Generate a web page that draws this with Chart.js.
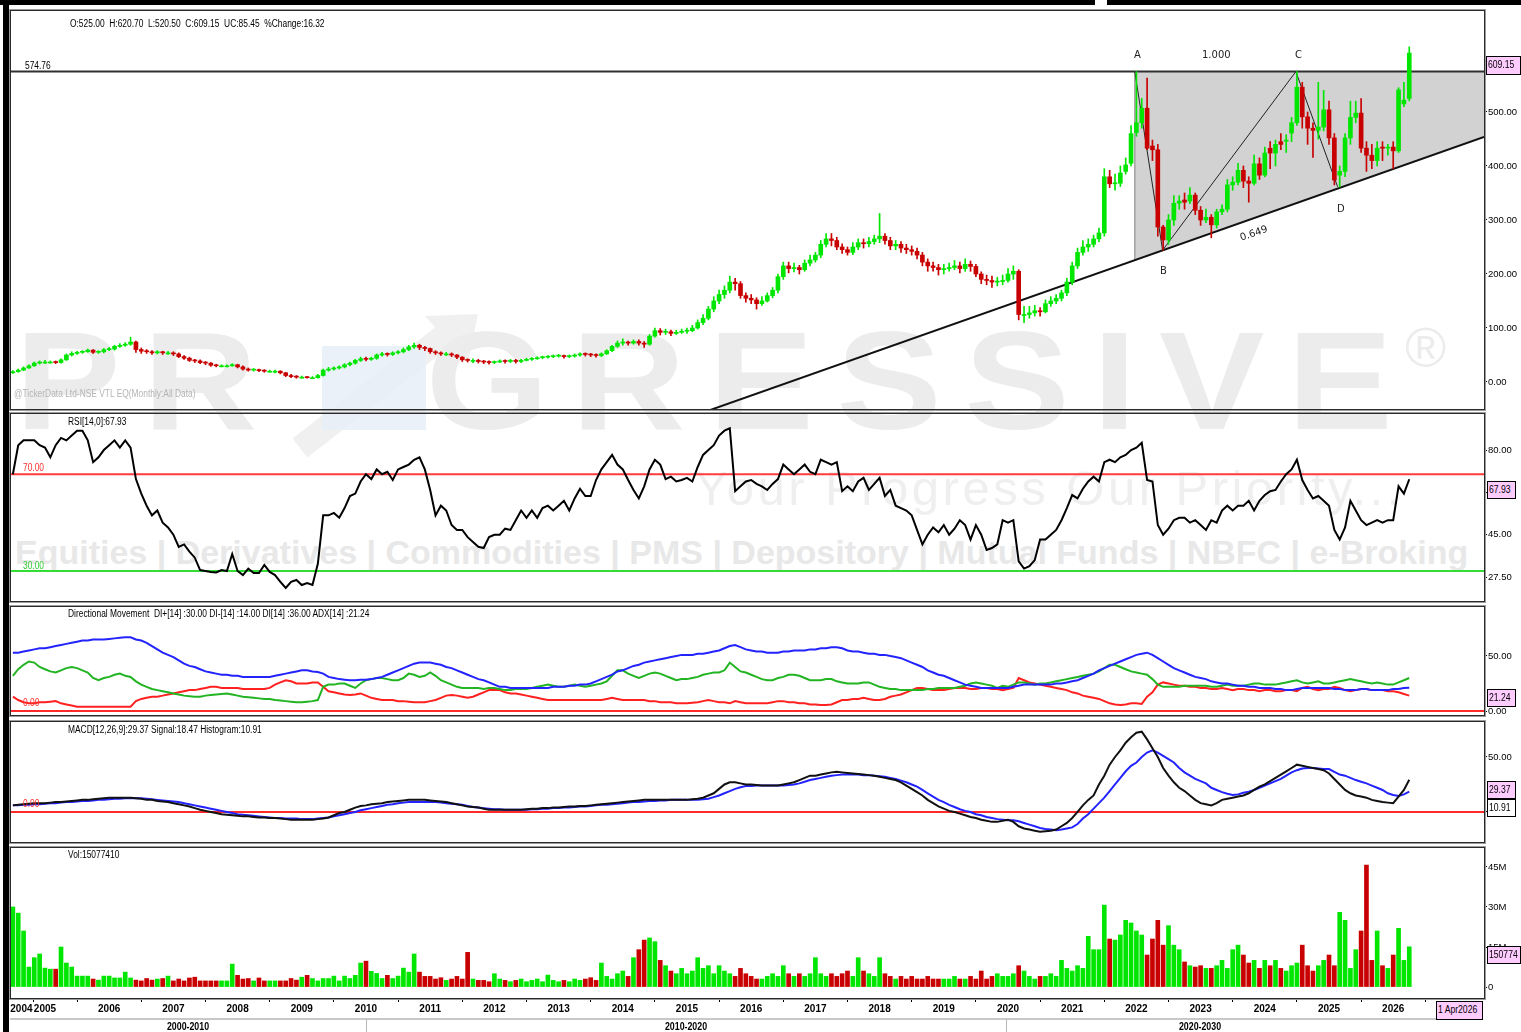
<!DOCTYPE html>
<html><head><meta charset="utf-8">
<script src="https://cdn.jsdelivr.net/npm/chart.js@4.4.1/dist/chart.umd.min.js"></script>
<style>
html,body{margin:0;padding:0;background:#fff;}
#wrap{position:relative;width:1521px;height:1032px;overflow:hidden;background:#fff;font-family:"Liberation Sans Narrow","Liberation Sans",Arial,sans-serif;}
canvas{position:absolute;left:0;z-index:2;}
.t{position:absolute;white-space:nowrap;font-size:10px;line-height:12px;color:#000;z-index:3;transform:scaleX(0.84);transform-origin:left center;}
.wm{position:absolute;white-space:nowrap;z-index:1;color:#ececec;font-family:"Liberation Sans",Arial,sans-serif;}
.box{position:absolute;z-index:4;background:#ffccff;border:1px solid #000;font-size:10px;line-height:16px;padding-left:1px;box-sizing:border-box;white-space:nowrap;overflow:hidden;}
.box span{display:inline-block;transform:scaleX(0.86);transform-origin:left center;}
.bar{position:absolute;background:#000;z-index:5;}
.lbl{position:absolute;white-space:nowrap;font-family:"DejaVu Sans","Liberation Sans",sans-serif;font-size:10px;color:#222;z-index:3;}
.yr{position:absolute;white-space:nowrap;font-weight:bold;font-size:11px;z-index:3;transform:scaleX(0.8);transform-origin:center center;width:80px;text-align:center;}
</style></head>
<body><div id="wrap">
<div class="bar" style="left:0;top:0;width:1095px;height:5px"></div>
<div class="bar" style="left:1107px;top:0;width:414px;height:5px"></div>
<div class="bar" style="left:3px;top:0;width:6px;height:1032px"></div>

<svg style="position:absolute;left:0;top:0;z-index:1" width="1521" height="620">
  <path d="M300 448 L445 335" stroke="#f0f0f0" stroke-width="24" fill="none"/>
  <path d="M425 316 L478 314 L468 364 Z" fill="#f0f0f0"/>
  <rect x="322" y="346" width="104" height="84" fill="#e6eef7" opacity="0.85"/>
</svg>
<div class="wm" style="left:15px;top:306px;font-size:140px;font-weight:bold;letter-spacing:20px;line-height:150px;transform:scaleX(1.13);transform-origin:left top">PR<span style="color:rgba(0,0,0,0)">O</span>GRESSIVE</div>
<div class="wm" style="left:1405px;top:318px;font-size:56px;line-height:60px">&reg;</div>
<div class="wm" style="left:695px;top:462px;font-size:49px;letter-spacing:3.5px;line-height:52px;color:#efefef">Your Progress Our Priority...</div>
<div class="wm" style="left:15px;top:532px;font-size:34px;font-weight:bold;line-height:40px;color:#e8e8e8">Equities | Derivatives | Commodities | PMS | Depository | Mutual Funds | NBFC | e-Broking</div>

<canvas id="cPrice" width="1521" height="404" style="top:8px"></canvas>
<canvas id="cRsi" width="1521" height="193" style="top:411px"></canvas>
<canvas id="cDmi" width="1521" height="114" style="top:604px"></canvas>
<canvas id="cMacd" width="1521" height="126" style="top:719px"></canvas>
<canvas id="cVol" width="1521" height="187" style="top:845px"></canvas>

<div class="t" style="left:70px;top:18px">O:525.00&nbsp; H:620.70&nbsp; L:520.50&nbsp; C:609.15&nbsp; UC:85.45&nbsp; %Change:16.32</div>
<div class="t" style="left:25px;top:60px">574.76</div>
<div class="t" style="left:14px;top:388px;color:#b4b4b4">@TickerData Ltd-NSE VTL EQ(Monthly:All Data)</div>
<div class="t" style="left:68px;top:416px">RSI[14,0]:67.93</div>
<div class="t" style="left:23px;top:462px;color:#ff3030">70.00</div>
<div class="t" style="left:23px;top:560px;color:#33cc33">30.00</div>
<div class="t" style="left:68px;top:608px">Directional Movement&nbsp; DI+[14] :30.00 DI-[14] :14.00 DI[14] :36.00 ADX[14] :21.24</div>
<div class="t" style="left:23px;top:697px;color:#ff3030">0.00</div>
<div class="t" style="left:68px;top:724px">MACD[12,26,9]:29.37 Signal:18.47 Histogram:10.91</div>
<div class="t" style="left:23px;top:798px;color:#ff3030">0.00</div>
<div class="t" style="left:68px;top:849px">Vol:15077410</div>

<div class="lbl" style="left:1134px;top:49px">A</div>
<div class="lbl" style="left:1202px;top:49px">1.000</div>
<div class="lbl" style="left:1295px;top:49px">C</div>
<div class="lbl" style="left:1160px;top:265px">B</div>
<div class="lbl" style="left:1337px;top:203px">D</div>
<div class="lbl" style="left:1240px;top:232px;transform:rotate(-19deg);transform-origin:left center">0.649</div>

<div class="box" style="left:1486px;top:56px;width:35px;height:19px"><span>609.15</span></div>
<div class="box" style="left:1487px;top:481px;width:29px;height:18px"><span>67.93</span></div>
<div class="box" style="left:1487px;top:689px;width:29px;height:18px"><span>21.24</span></div>
<div class="box" style="left:1487px;top:781px;width:29px;height:18px"><span>29.37</span></div>
<div class="box" style="left:1487px;top:799px;width:29px;height:18px;background:#fff"><span>10.91</span></div>
<div class="box" style="left:1487px;top:946px;width:34px;height:18px"><span>150774</span></div>
<div class="box" style="left:1436px;top:1001px;width:47px;height:19px"><span>1 Apr2026</span></div>

<div style="position:absolute;left:10px;top:1018px;width:1426px;height:2px;background:#c8c8c8;z-index:3"></div>
<div style="position:absolute;left:366px;top:1019px;width:1px;height:13px;background:#b8b8b8;z-index:3"></div>
<div style="position:absolute;left:1006px;top:1019px;width:1px;height:13px;background:#b8b8b8;z-index:3"></div>
<div class="yr" style="left:148px;top:1020px">2000-2010</div>
<div class="yr" style="left:646px;top:1020px">2010-2020</div>
<div class="yr" style="left:1160px;top:1020px">2020-2030</div>
</div>
<script>
// ---------- DATA (monthly, Jul 2004 .. Apr 2026) ----------
const startMonthIndex = 6; // months after Jan 2004
const openP = [
17,19,22,26,30,35,
37,37,37,36,41,50,53,55,56,59,55,56,
60,61,66,68,70,74,60,57,56,54,56,54,
54,52,47,44,40,39,36,35,31,30,30,30,
32,28,24,22,23,21,20,20,20,17,12,10,
9,9,8,8,12,22,24,26,28,32,35,40,
43,42,44,50,52,51,54,56,60,65,68,64,
62,56,54,52,52,50,46,41,40,40,38,37,
36,37,39,38,40,38,40,42,43,45,46,47,
48,49,47,48,50,52,51,50,49,52,58,66,
72,74,72,75,72,70,85,95,92,93,90,92,
94,95,100,110,118,135,150,162,170,185,182,160,
155,152,145,150,160,170,195,215,210,212,208,220,
226,235,255,265,262,250,245,240,250,258,256,260,
265,270,262,252,255,248,245,242,235,222,215,212,
208,210,212,215,210,218,214,200,190,188,185,186,
188,200,205,125,125,128,132,130,145,150,155,165,
185,215,240,250,255,265,276,380,367,368,390,405,
462,480,507,437,430,287,263,300,331,337,335,346,
318,300,305,291,315,320,365,370,392,372,368,404,
383,433,424,445,446,461,480,546,491,470,466,472,
504,452,383,390,452,490,498,433,420,410,435,433,
435,428,515,525];
const highP = [
21,24,28,32,37,39,
40,39,39,43,52,56,57,58,61,60,58,62,
64,68,71,73,83,76,63,60,58,58,57,57,
56,54,49,46,42,41,38,36,33,32,32,34,
33,30,26,25,24,23,22,22,21,18,14,12,
11,10,10,14,24,27,28,30,34,37,42,46,
46,46,52,55,54,56,58,63,68,72,70,66,
63,58,56,55,54,51,47,43,43,42,40,39,
39,41,41,42,42,42,44,45,47,48,49,50,
51,50,50,52,54,54,53,52,54,60,68,76,
80,76,78,78,75,88,100,99,98,96,96,98,
100,105,115,125,140,158,170,178,196,192,186,165,
162,156,158,165,175,200,222,222,220,216,226,235,
240,262,275,275,268,256,250,258,265,265,268,272,
312,275,268,262,260,255,252,248,240,228,222,218,
218,220,225,222,228,224,218,204,198,196,194,198,
210,215,208,140,140,142,138,152,158,162,170,192,
222,248,262,265,272,285,395,392,385,400,415,475,
574.76,525,563,448,440,290,310,345,345,350,360,350,
325,320,310,320,328,375,380,405,400,380,420,415,
435,445,448,460,458,490,574.76,555,500,480,555,540,
520,460,400,460,520,520,525,445,440,445,445,440,
445,545,555,620.7];
const lowP = [
16,18,21,25,29,33,
34,35,34,35,40,48,51,53,55,53,53,54,
58,59,64,66,68,55,53,53,51,52,51,51,
49,45,42,38,36,34,32,29,28,28,28,29,
26,22,20,20,19,18,18,17,15,10,8,7,
7,7,6,7,11,20,22,24,26,30,33,38,
39,40,42,48,48,49,52,54,58,62,60,58,
53,51,49,49,47,43,38,37,36,35,34,33,
34,36,35,36,35,36,39,40,42,43,44,45,
46,44,45,46,48,48,47,46,47,51,56,64,
68,68,70,68,64,68,83,87,88,86,88,90,
90,93,98,106,115,130,145,155,165,170,155,148,
145,135,142,148,156,165,190,202,204,200,205,215,
222,230,250,252,245,238,235,236,245,248,250,255,
258,255,245,245,240,238,235,228,215,205,205,198,
200,205,208,202,205,205,195,182,180,175,178,180,
185,190,115,110,118,122,122,128,140,145,150,160,
180,210,235,242,250,260,270,360,355,362,385,400,
455,470,430,410,270,244,255,290,320,320,330,310,
290,295,267,285,310,315,355,365,360,333,365,375,
380,395,400,430,425,445,475,470,440,416,450,465,
440,365,361,380,440,480,425,390,395,400,410,420,
395,425,510,520.5];
const closeP = [
19,22,26,30,35,37,
37,37,36,41,50,53,55,56,59,55,56,60,
61,66,68,70,74,60,57,56,54,56,54,54,
52,47,44,40,39,36,35,31,30,30,30,32,
28,24,22,23,21,20,20,20,17,12,10,9,
9,8,8,12,22,24,26,28,32,35,40,43,
42,44,50,52,51,54,56,60,65,68,64,62,
56,54,52,52,50,46,41,40,40,38,37,36,
37,39,38,40,38,40,42,43,45,46,47,48,
49,47,48,50,52,51,50,49,52,58,66,72,
74,72,75,72,70,85,95,92,93,90,92,94,
95,100,110,118,135,150,162,170,185,182,160,155,
152,145,150,160,170,195,215,210,212,208,220,226,
235,255,265,262,250,245,240,250,258,256,260,265,
270,262,252,255,248,245,242,235,222,215,212,208,
210,212,215,210,218,214,200,190,188,185,186,188,
200,205,125,125,128,132,130,145,150,155,165,185,
215,240,250,255,265,276,380,367,368,387,402,460,
480,507,433,430,287,263,300,331,335,333,346,318,
300,305,291,315,320,365,370,392,372,368,404,383,
424,424,440,440,448,480,546,491,470,466,472,504,
452,374,390,452,490,498,433,420,410,433,433,435,
428,541,522,609.15];
const rsi = [
70,82,84,84,84,82,
81,77,82,85,84,86,88,88,84,75,77,80,
82,84,81,84,81,68,62,57,53,55,50,48,
45,40,41,38,35.5,30.4,30,29.6,29.4,30.4,30,37,
30,28.3,31,29.2,29.2,32.5,29.6,28.3,25.5,23,25.5,26.3,
24.2,25,24.2,33,53,53,54,52,56,61,62,67,
70,68,72,70,71,67.6,72,73,74,76,77,72,
63.5,53,57,55,49,47,47,44,42,40,39.5,44,
45,45,47.5,47,51,55,52,55,52,56,57,55,
57,59,55,60,64,61,61,67.6,72,75,78,74,
72,67.6,63.5,60,65,72,76,74,68,69,67,67.6,
68.5,67,73,78,80,82,86,88,89,63,65,67,
67.6,66,65,63.5,66,68,74,72,70,72,74,71,
70,76,75,74,75,63,65,63,67,68.5,63.5,66,
68.5,61,63.5,57,56,55,53,47,41,45,48,46,
49,45,47.5,51,49,43,49,45,38.7,39.5,41,51,
50,51,34,31,32,34.5,43,43,45,47,51,56,
61.4,60,64,67,69,67,75,76,75,77,78,80,
81,83,67.6,67,49,45,47.5,51,52,52,50,51,
49,47,51,50,55,57,55,57,57,59,55,59,
61.4,63,63.5,67,70,72,76,67.6,63.5,60,61,59,
57,47,43,48,59,55,51,49,50,51,50,51,
51,65,62,67.93];
const adx = [
53,53,54,55,56,57,
57,58,59,60,61,62,63,64,64,65,65,65,
65.5,66,66.5,67,67,65,64,62,59,56,53,51,
49,46,43,41,40,38,36,35,34,33,33,32,
32,31,31,31,31,31,31,32,33,34,35,36,
37,37,36,35.5,34,31,30,29,28.5,28,28,28.5,
28.5,29,30,31,33,35,37,39,41,43,44,44,
44,43,42,40,39,37,35,33,31,29,28,26,
24,22,22,21,21,21,21,21,21,21,21,22,
22,22,23,23,24,24,25,27,29,31,33,36,
37,39,41,42,44,45,46,47,48,49,50,51,
51,51,52,52,53,54,55,57,59,60,58,56,
55,54,54,53,53,53,54,54,55,55,55,56,
56,57,57,58,58,57,55,54,54,53,52,52,
51,51,50,49,48,46,44,42,40,37,35,33,
32,30,28,26,24,23,22,21,21,21,21,21,
21,22,23,24,24,24,24,24,24,25,25,26,
27,28,30,32,34,37,39,41,43,45,47,49,
51,52,53,51,48,45,42,39,37,35,33,31,
30,29,27,26,25,25,24,23,23,22,22,21,
21,21,20,20,19,19,20,21,21,21,21,21,
21,20,20,19,19,19,20,20,19,19,19,19,
20,20,21,21.24];
const diPlus = [
32,38,42,45,44,40,
38,36,35,37,39,40,39,37,35,30,28,30,
31,33,34,32,31,27,24,22,20,19,18,17,
16,15,14,13.5,13,13,14,14.5,15,15.5,16,15,
14,13,12.5,12,11.5,11,11,10,9.5,9,8.5,8,
8,8.5,9,10,22,24,24,25,25,23,21,25,
28,29,30,30,29,28,28,30,34,33,31,32,
35,32,28,26,24,22,21,21,21,21,20,21,
21,20,19,19,20,20,20,21,22,23,24,23,
22,22,23,24,23,22,23,24,25,27,32,37,
37,34,32,30,32,34,35,34,32,30,28,29,
29,30,31,33,34,35,35,37,44,40,36,35,
33,31,29,28,28,30,31,33,33,32,30,28,
28,28,29,29,27,26,25,25,25,26,26,24,
22,21,20,20,19,19,19,19,19,20,20,21,
21,21,21,22,23,25,26,25,24,23,21,23,
22,24,26,26,25,24,25,25,26,27,28,29,
30,31,32,33,34,36,39,42,42,40,38,36,
35,34,33,29,24,22,22,22,22,23,23,23,
23,23,22,22,23,24,23,23,23,24,25,25,
24,24,24,25,26,27,28,26,25,26,27,25,
25,26,27,28,29,28,27,26,25,26,25,24,
24,26,28,30];
const diMinus = [
13,10,8,7,7,8,
8,8.5,9,7,6,5,4,4,4,4,4,4,
4,4,4,4,4,9,11,12,13,13,14,15,
16,17,18,19,19,20,21,22,22,21,21,21,
21,20,20,20,20,20,21,24,26,28,27,25,
25,25,26,26,22,18,17,16,15,14.5,15,16,
14,12,11,10,10,10,9,9,8.5,8,8,8,
9,10,12,14,14.5,14,13,12,13,15,17,19,
19,19,17,16,16,15,14,13,12,11,10,10,
10,10,10,10,10,10,10,10,10,11,12,11,
10,10,10,10,10,9,9,8,8,8,7,7,
7,7.5,8,9,10,9,8,8,7,9,8,7,
7,7,7,7,8,9,9,8,8,7,7,6,
6,5.5,5.5,6,8,10,10,11,11,12,11,10,
10,11,13,14,15,17,19,21,21,20,19,19,
19,20,21,21,21,20,20,21,21,20,20,19,
20,21,30,28,26,25,24,23,22,21,20,19,
17,16,14,13,12,11,9,7,6,5.5,6,7,
7,6.5,13,17,24,26,25,24,23,23,22,22,
21,21,20,20,21,20,19,20,20,19,19,18,
19,19,18,18,19,19,18,21,22,20,19,20,
20,22,21,19,18,19,20,20,19,19,19,18,
18,17,15.5,14];
const macd = [
6,6.5,7,7.5,8,8,
8,8.5,9,9,9.5,10,10.5,11,11,11.5,12,12.5,
13,13,13,13,13,12.5,12,11,11,10,9.5,9,
8,7,6,5,3.5,2,1,0,-1,-2,-2.5,-3,
-3.5,-4,-4,-4.5,-5,-5,-5.5,-5.5,-6,-6.5,-7,-7,
-7,-7,-7,-6.5,-6,-5,-3,-1,0,2,4,5.5,
6,7,7.5,8,9,9.5,10,10.5,11,11,11,11,
10.5,10,9.5,9,8,7,6,5,4.5,4,3,2,
2,2,2,2,2,2,2.5,3,3,3.5,3.5,4,
4,4.5,5,5,5.5,5.5,6,6.5,7,7.5,8,8.5,
9,9.5,10,10.5,11,11,11,11,11,11,11,11,
11,11.5,12,13,15,17,21,25,27,27,26,25,
25,24.5,24,24,24,24,25,26,27,29,31,33,
33,34,35,36,36.5,36,35.5,35,34.5,34,33.5,33,
32,31,30,29,27,24,21,18,15,11,8,5,
3,1,0,-1.5,-3,-4.5,-5.5,-7,-8,-9,-9,-8,
-7,-9,-13,-15,-16,-17,-18,-17.5,-17,-16,-13,-10,
-5.5,0,6,11,15,25,33,43,50,56,63,68,
72,73,66,58,50,40,33,27,22,19,15,11,
8,7,6,8,11,12,13,14,15,17,20,23,
25,28,31,34,37,40,43,42,41,40,39,38,
35,30,25,20,17,15,14,13,11,10,9,8.5,
8,14,20,29.37];
const signal = [
6,6,6.5,6.5,7,7,
7.5,8,8,8.5,9,9,9.5,10,10,10.5,11,11,
11.5,12,12,12.5,12.5,12.5,12.5,12,11.5,11,10.5,10,
9.5,9,8,7,6,5,4,3,2,1,0,-1,
-2,-2.5,-3,-3.5,-4,-4.5,-5,-5.5,-5.5,-6,-6,-6,
-6.5,-6.5,-6.5,-6,-5.5,-5,-4,-3,-2,-1,0,1.5,
2.5,3.5,4.5,5.5,6.5,7,8,8.5,9,9,9,9,
9,9,8.5,8,7.5,7,6.5,5.5,4.5,4,3.5,3,
2.5,2.5,2,2,2,2,2,2.5,2.5,3,3,3.5,
3.5,4,4,4.5,5,5,5.5,6,6.5,6.5,7,7.5,
8,8.5,9,9,9.5,10,10,10.5,10.5,11,11,11,
11,11,11,11.5,12,13.5,15,17,19,21,22.5,23.5,
23.5,24,24,24,24,24,24,24.5,25,26,27.5,29,
30,31,32,33,33.5,34,34,34,34,33.5,33.5,33,
32.5,32,31,30,28.5,27,25,23,20,17,14,11,
9,6.5,4.5,2.5,1,0,-2,-3,-4.5,-5.5,-6.5,-7,
-7.5,-7.5,-8.5,-10,-11.5,-13,-14.5,-15.5,-16,-16.5,-16,-15,
-14,-11,-6,-2,3,8,13,19,25,31,37,42,
45,50,54,56,54,51,48,45,40,36,33,30,
28,26,22,20,18,16.5,15.5,16,17.5,18.5,20,22,
24,26,28,30,33,36,38,39.5,40,40,39.5,39,
39,36.5,34,33,31,29,27.5,26,24,22,20,17,
15.5,14.5,16,18.47];
const volumeM = [
30,27.7,21,7.5,11,12.4,
7.1,6.7,6.7,15,9,7.5,4.1,4.1,4.1,3,2.6,4.1,
4.1,3.4,3.4,5.6,3.4,2.6,2.3,3.2,2.6,3,3.2,4.1,
2.3,3,2.3,3.4,3.7,2.3,2.3,2.3,2.3,2.3,2.3,8.6,
4.4,3,3.2,2.3,3.4,2.3,2.3,2.3,2.3,2.3,3.2,2.6,
3.7,4.4,3.2,2.3,3.2,3.2,4.1,2.3,4.1,3.2,4.4,9,
9.7,5.9,5.1,3.2,4.4,3.2,4.1,7.1,5.6,12.4,5.6,4,
4,3,3.5,2.5,3,4,3,13,3,2.5,2.5,2,
5,3,2.5,2,2.5,3,2,2.5,3,2,4.5,2.5,
2,2.5,2,3,2.5,3,3.5,2.5,9,4,3,5,
6,4,11,14,17.6,18.4,17,10,8,6,5,7,
5,6,11,7,8,5,8,6,5,4,7,5,
4,3,3,4,5,4,8,5,4,5,4,5,
11,5,4,5,4,5,6,4,11,6,5,4,
11,5,4,3,4,3,4,3,3,4,3,3,
3,3,4,3,3,4,3,6,3,4,5,4,
4,5,8,6,4,3,4,4,5,4,10,7,
6,8,7,19,14,14,30.7,18,17.6,19.5,25,24,
21,19.5,12,18,25,15.7,23,15.7,14,9.4,8,7.5,
8,7,7,8,10,7,14,15.7,12,9,10,7,
10,8,10,7,6,8,9,15.7,8,6,8,10,
12,8,28,25,7,14,21,45.7,10,21,8,7,
12,22,10,15.08];

// pattern / drawing objects (month index, price)
const resistance = 574.76;
const trendT = [136.3, 280.97], trendP = [-52, 453.7];
const shadeT = [215.7, 280.97], shadeLow = [225.8, 453.7];
const abcdT = [215.7, 220.9, 245.8, 253.6], abcdP = [574.76, 244, 574.76, 361.7];

// axis tick labels
const yearTicks = [7.6,12,24,36,48,60,72,84,96,108,120,132,144,156,168,180,192,204,216,228,240,252,264];
const yearLabels = ['2004','2005','2006','2007','2008','2009','2010','2011','2012','2013','2014','2015','2016','2017','2018','2019','2020','2021','2022','2023','2024','2025','2026'];
const priceTicks = [0,100,200,300,400,500];
const rsiTicks = [27.5,45,62.5,80];
const dmiTicks = [0,50];
const macdTicks = [0,50];
const volTicks = [0,15,30,45];

// ---------- CHARTS ----------
const FONT = '"Liberation Sans Narrow","Liberation Sans",Arial,sans-serif';
Chart.defaults.font.family = FONT;
const XMIN = 5.65, XMAX = 280.97;
const UP = '#00e600', DOWN = '#c80000';
const months = closeP.map((_, i) => startMonthIndex + i);
const isUp = i => closeP[i] >= openP[i];
const dirColor = c => isUp(c.dataIndex) ? UP : DOWN;
const pts = (xs, ys) => xs.map((x, i) => ({x, y: ys[i]}));
const series = ys => months.map((t, i) => ({x: t, y: ys[i]}));
const line = (data, color, width, order, extra) => Object.assign({type:'line', data, borderColor:color, borderWidth:width, pointRadius:0, fill:false, tension:0, order}, extra || {});

const framePlugin = { id:'frame', afterDraw(chart){
  const {ctx, chartArea:a} = chart; ctx.save(); ctx.lineWidth = 1;
  const l = Math.round(a.left), t = Math.round(a.top), w = Math.round(a.right) - l, h = Math.round(a.bottom) - t;
  ctx.strokeStyle = '#2a2a2a'; ctx.strokeRect(l - 0.5, t - 0.5, w + 1, h + 1);
  ctx.strokeStyle = '#9c9c9c'; ctx.strokeRect(l - 1.5, t - 1.5, w + 3, h + 3);
  ctx.restore(); } };

function yAxis(min, max, tickVals, fmt){
  return { type:'linear', position:'right', min, max,
    afterBuildTicks: s => { s.ticks = tickVals.map(v => ({value:v})); },
    afterFit: s => { s.width = 37; s.paddingTop = 0; s.paddingBottom = 0; },
    ticks: { callback: fmt, font:{family:FONT, size:9.5}, color:'#000', padding:1, autoSkip:false },
    grid: { drawOnChartArea:false, drawTicks:true, tickLength:3, color:'#000' },
    border: { display:true, color:'#000' } };
}
const xHidden = () => ({ type:'linear', min:XMIN, max:XMAX, offset:false, display:false });
function opts(x, y, padBottom){
  return { responsive:false, animation:false, devicePixelRatio:1, events:[],
    layout:{ padding:{ left:11, right:0, top:3, bottom:padBottom } },
    plugins:{ legend:{display:false}, tooltip:{enabled:false} },
    scales:{ x, y } };
}

// Price
new Chart(document.getElementById('cPrice'), {
  type:'bar',
  data:{ datasets:[
    line(pts(shadeT, [resistance, resistance]), 'rgba(0,0,0,0)', 0, 20, {fill:'+1', backgroundColor:'#d2d2d2'}),
    line(pts(shadeT, shadeLow), 'rgba(0,0,0,0)', 0, 20),
    line(pts([shadeT[0], shadeT[0]], [resistance, shadeLow[0]]), '#a8a8a8', 1, 19),
    line(pts([XMIN, XMAX], [resistance, resistance]), '#303030', 2, 8),
    line(pts(trendT, trendP), '#111', 2, 7),
    line(pts(abcdT, abcdP), '#222', 1, 6),
    { type:'bar', data: months.map((t, i) => ({x:t, y:[lowP[i], highP[i]]})), backgroundColor: dirColor, barThickness:1, grouped:false, order:3 },
    { type:'bar', data: months.map((t, i) => ({x:t, y:[openP[i], closeP[i]]})), backgroundColor: dirColor, barThickness:4, minBarLength:1, grouped:false, order:2 }
  ]},
  options: opts(xHidden(), yAxis(-50, 687, priceTicks, v => v.toFixed(2)), 3),
  plugins:[framePlugin]
});

// RSI
new Chart(document.getElementById('cRsi'), {
  type:'bar',
  data:{ datasets:[
    line(pts([XMIN, XMAX], [70, 70]), '#ff3b3b', 2, 5),
    line(pts([XMIN, XMAX], [30, 30]), '#33dd33', 2, 5),
    line(series(rsi), '#000', 2, 1)
  ]},
  options: opts(xHidden(), yAxis(17.6, 94.9, rsiTicks, v => v.toFixed(2)), 3),
  plugins:[framePlugin]
});

// Directional movement
new Chart(document.getElementById('cDmi'), {
  type:'bar',
  data:{ datasets:[
    line(pts([XMIN, XMAX], [0, 0]), '#ff2a2a', 2, 5),
    line(series(diMinus), '#ff2020', 2, 3),
    line(series(diPlus), '#22b422', 2, 2),
    line(series(adx), '#2323ff', 2, 1)
  ]},
  options: opts(xHidden(), yAxis(-3.6, 94.5, dmiTicks, v => v.toFixed(2)), 3),
  plugins:[framePlugin]
});

// MACD
new Chart(document.getElementById('cMacd'), {
  type:'bar',
  data:{ datasets:[
    line(pts([XMIN, XMAX], [0, 0]), '#ff2a2a', 2, 5),
    line(series(signal), '#2323ff', 2, 2),
    line(series(macd), '#111', 2, 1)
  ]},
  options: opts(xHidden(), yAxis(-27.3, 81.8, macdTicks, v => v.toFixed(2)), 3),
  plugins:[framePlugin]
});

// Volume
const volX = { type:'linear', min:XMIN, max:XMAX, offset:false, display:true, position:'bottom',
  afterBuildTicks: s => { s.ticks = yearTicks.map(v => ({value:v})); },
  afterFit: s => { s.height = 34; s.paddingLeft = 0; s.paddingRight = 0; },
  ticks: { autoSkip:false, maxRotation:0, padding:1, color:'#000', font:{family:FONT, size:10, weight:'bold'},
    callback: (v, i) => yearLabels[i] },
  grid: { drawOnChartArea:false, drawTicks:true, tickLength:4, color:'#000' },
  border: { display:false } };
new Chart(document.getElementById('cVol'), {
  type:'bar',
  data:{ datasets:[
    { type:'bar', data: series(volumeM), backgroundColor: dirColor, barThickness:4, grouped:false, order:1 }
  ]},
  options: opts(volX, yAxis(-4.1, 52.1, volTicks, v => v === 0 ? '0' : v + 'M'), 0),
  plugins:[framePlugin]
});
</script>
</body></html>
